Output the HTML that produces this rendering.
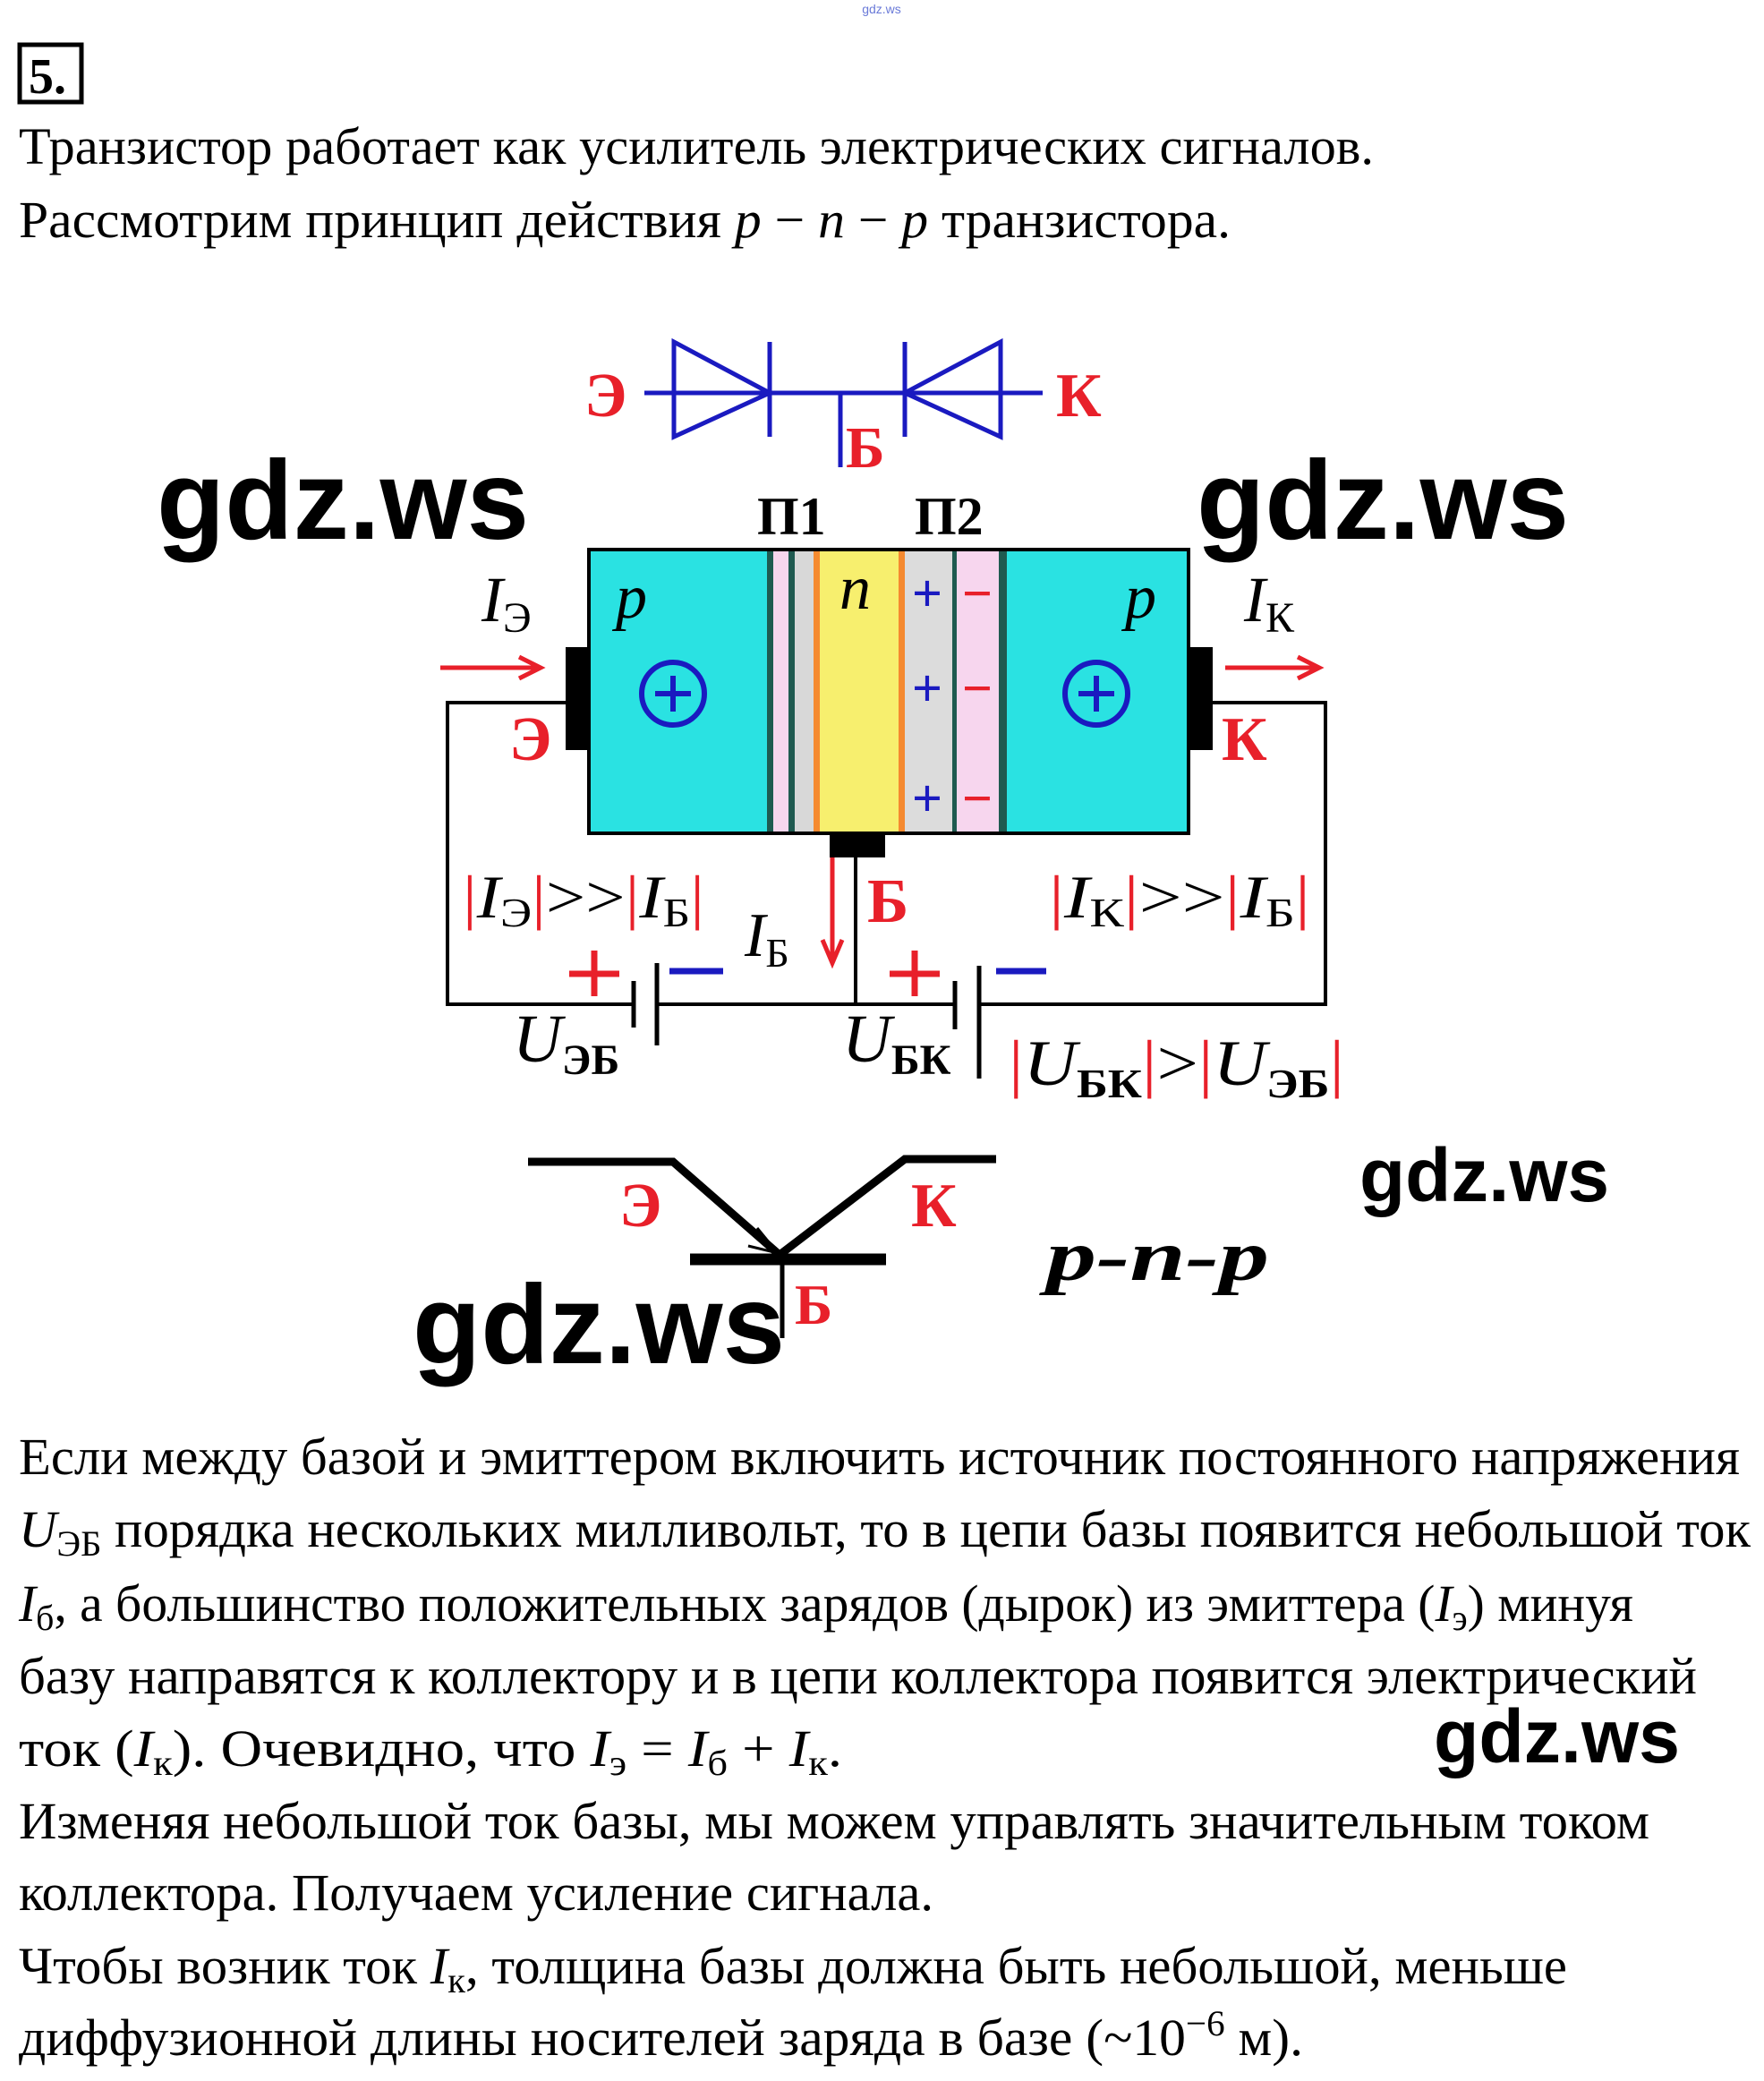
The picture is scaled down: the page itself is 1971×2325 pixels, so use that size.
<!DOCTYPE html>
<html><head><meta charset="utf-8"><style>html,body{margin:0;padding:0;background:#fff}svg{display:block}</style></head><body>
<svg width="1971" height="2325" viewBox="0 0 1971 2325" xmlns="http://www.w3.org/2000/svg" font-family="'Liberation Serif', serif">
<text x="985" y="15" font-size="14" fill="#6a7ad8" font-family="'Liberation Sans',sans-serif" text-anchor="middle">gdz.ws</text>
<rect x="22" y="50" width="69" height="64" fill="none" stroke="#000" stroke-width="5"/>
<text x="32" y="104" font-size="56" font-weight="bold">5.</text>
<text x="21" y="183" font-size="58" textLength="1514" lengthAdjust="spacingAndGlyphs">Транзистор работает как усилитель электрических сигналов.</text>
<text x="21" y="265" font-size="58" textLength="1354" lengthAdjust="spacingAndGlyphs">Рассмотрим принцип действия <tspan font-style="italic">p</tspan> − <tspan font-style="italic">n</tspan> − <tspan font-style="italic">p</tspan> транзистора.</text>

<g stroke="#1a1ac0" stroke-width="5" fill="none">
<line x1="720" y1="439" x2="1165" y2="439"/>
<polygon points="753,382 753,488 860,439"/>
<line x1="860" y1="382" x2="860" y2="488"/>
<polygon points="1118,382 1118,488 1011,439"/>
<line x1="1011" y1="382" x2="1011" y2="488"/>
<line x1="939" y1="439" x2="939" y2="522"/>
</g>
<g fill="#e8202a" font-weight="bold" font-size="70">
<text x="653" y="465">Э</text><text x="1180" y="465">К</text><text x="945" y="522" font-size="66">Б</text>
</g>
<text x="846" y="597" font-size="60" font-weight="bold">П1</text>
<text x="1022" y="597" font-size="60" font-weight="bold">П2</text>

<rect x="658" y="614" width="670" height="317" fill="#2ae2e2"/>
<rect x="864" y="614" width="17" height="317" fill="#f7d6ee"/>
<rect x="888" y="614" width="21" height="317" fill="#d8d8d8"/>
<rect x="909" y="614" width="7" height="317" fill="#f58a30"/>
<rect x="916" y="614" width="88" height="317" fill="#f7ef6e"/>
<rect x="1004" y="614" width="7" height="317" fill="#f58a30"/>
<rect x="1011" y="614" width="53" height="317" fill="#dcdcdc"/>
<rect x="1069" y="614" width="47" height="317" fill="#f7d6ee"/>
<rect x="857" y="614" width="7" height="317" fill="#1f5a50"/>
<rect x="881" y="614" width="7" height="317" fill="#1f5a50"/>
<rect x="1064" y="614" width="5" height="317" fill="#1f5a50"/>
<rect x="1116" y="614" width="9" height="317" fill="#1f5a50"/>
<rect x="658" y="614" width="670" height="317" fill="none" stroke="#000" stroke-width="4"/>
<rect x="632" y="723" width="28" height="115" fill="#000"/>
<rect x="1328" y="723" width="27" height="115" fill="#000"/>
<rect x="927" y="931" width="62" height="27" fill="#000"/>
<g font-style="italic" font-size="70">
<text x="688" y="690">p</text><text x="938" y="680">n</text><text x="1257" y="690">p</text>
<text x="538" y="694" font-size="72">I<tspan font-size="48" font-style="normal" dy="12">Э</tspan></text>
<text x="1390" y="694" font-size="72">I<tspan font-size="48" font-style="normal" dy="12">К</tspan></text>
</g>
<g stroke="#e8202a" stroke-width="5" fill="none">
<line x1="492" y1="746" x2="600" y2="746"/><polyline points="580,734 604,746 580,758"/>
<line x1="1369" y1="746" x2="1470" y2="746"/><polyline points="1450,734 1474,746 1450,758"/>
<line x1="930" y1="958" x2="930" y2="1072"/><polyline points="919,1050 930,1076 941,1050"/>
</g>
<g stroke="#1a1ac0" stroke-width="6" fill="none">
<circle cx="752" cy="775" r="35"/><line x1="732" y1="775" x2="772" y2="775"/><line x1="752" y1="755" x2="752" y2="795"/>
<circle cx="1225" cy="775" r="35"/><line x1="1205" y1="775" x2="1245" y2="775"/><line x1="1225" y1="755" x2="1225" y2="795"/>
</g>
<g font-size="60" font-weight="bold" text-anchor="middle">
<text x="1036" y="683" fill="#1a1ac0">+</text><text x="1036" y="789" fill="#1a1ac0">+</text><text x="1036" y="912" fill="#1a1ac0">+</text>
<text x="1092" y="683" fill="#e8202a">−</text><text x="1092" y="789" fill="#e8202a">−</text><text x="1092" y="912" fill="#e8202a">−</text>
</g>
<g fill="#e8202a" font-weight="bold" font-size="70">
<text x="569" y="849">Э</text><text x="1365" y="849">К</text><text x="969" y="1030">Б</text>
</g>

<g stroke="#000" stroke-width="4" fill="none">
<polyline points="632,785 500,785 500,1122 708,1122"/>
<polyline points="734,1122 1067,1122"/>
<line x1="956" y1="958" x2="956" y2="1122"/>
<polyline points="1094,1122 1481,1122 1481,785 1355,785"/>
<line x1="708" y1="1096" x2="708" y2="1148" stroke-width="5"/>
<line x1="734" y1="1076" x2="734" y2="1168" stroke-width="5"/>
<line x1="1067" y1="1096" x2="1067" y2="1150" stroke-width="5"/>
<line x1="1094" y1="1079" x2="1094" y2="1205" stroke-width="5"/>
</g>
<g stroke-width="7">
<line x1="636" y1="1088" x2="692" y2="1088" stroke="#e8202a"/><line x1="664" y1="1062" x2="664" y2="1113" stroke="#e8202a"/>
<line x1="748" y1="1085" x2="808" y2="1085" stroke="#1a1ac0"/>
<line x1="994" y1="1088" x2="1050" y2="1088" stroke="#e8202a"/><line x1="1022" y1="1062" x2="1022" y2="1113" stroke="#e8202a"/>
<line x1="1113" y1="1085" x2="1169" y2="1085" stroke="#1a1ac0"/>
</g>
<g font-size="68">
<text x="517" y="1025" textLength="270" lengthAdjust="spacingAndGlyphs"><tspan fill="#e8202a">|</tspan><tspan font-style="italic">I</tspan><tspan font-size="46" dy="10">Э</tspan><tspan fill="#e8202a" dy="-10">|</tspan>&gt;&gt;<tspan fill="#e8202a">|</tspan><tspan font-style="italic">I</tspan><tspan font-size="46" dy="10">Б</tspan><tspan fill="#e8202a" dy="-10">|</tspan></text>
<text x="1172" y="1025" textLength="292" lengthAdjust="spacingAndGlyphs"><tspan fill="#e8202a">|</tspan><tspan font-style="italic">I</tspan><tspan font-size="46" dy="10">К</tspan><tspan fill="#e8202a" dy="-10">|</tspan>&gt;&gt;<tspan fill="#e8202a">|</tspan><tspan font-style="italic">I</tspan><tspan font-size="46" dy="10">Б</tspan><tspan fill="#e8202a" dy="-10">|</tspan></text>
<text x="832" y="1068" font-size="70"><tspan font-style="italic">I</tspan><tspan font-size="46" dy="12">Б</tspan></text>
<text x="573" y="1186" font-size="76"><tspan font-style="italic">U</tspan><tspan font-size="48" font-weight="bold" dy="14">ЭБ</tspan></text>
<text x="941" y="1186" font-size="76"><tspan font-style="italic">U</tspan><tspan font-size="48" font-weight="bold" dy="14">БК</tspan></text>
<text x="1127" y="1212" textLength="375" lengthAdjust="spacingAndGlyphs" font-size="72"><tspan fill="#e8202a">|</tspan><tspan font-style="italic">U</tspan><tspan font-size="46" font-weight="bold" dy="14">БК</tspan><tspan fill="#e8202a" dy="-14">|</tspan>&gt;<tspan fill="#e8202a">|</tspan><tspan font-style="italic">U</tspan><tspan font-size="46" font-weight="bold" dy="14">ЭБ</tspan><tspan fill="#e8202a" dy="-14">|</tspan></text>
</g>

<g stroke="#000" fill="none">
<polyline points="590,1298 752,1298 871,1402" stroke-width="9"/>
<polyline points="871,1402 1011,1295 1113,1295" stroke-width="9"/>
<line x1="771" y1="1407" x2="990" y2="1407" stroke-width="13"/>
<line x1="874" y1="1407" x2="874" y2="1495" stroke-width="5"/>
<polyline points="846,1372 869,1400 836,1392" stroke-width="3"/>
</g>
<g fill="#e8202a" font-weight="bold" font-size="70">
<text x="692" y="1370">Э</text><text x="1018" y="1370">К</text><text x="888" y="1479" font-size="64">Б</text>
</g>
<text x="1169" y="1430" font-size="80" font-style="italic" font-weight="bold" textLength="249" lengthAdjust="spacingAndGlyphs">p-n-p</text>

<g font-family="'Liberation Sans',sans-serif" font-weight="bold">
<text x="175" y="602" font-size="125" textLength="416" lengthAdjust="spacingAndGlyphs">gdz.ws</text>
<text x="1337" y="602" font-size="125" textLength="416" lengthAdjust="spacingAndGlyphs">gdz.ws</text>
<text x="1519" y="1342" font-size="84" textLength="279" lengthAdjust="spacingAndGlyphs">gdz.ws</text>
<text x="461" y="1523" font-size="125" textLength="416" lengthAdjust="spacingAndGlyphs">gdz.ws</text>
<text x="1602" y="1969" font-size="84" textLength="275" lengthAdjust="spacingAndGlyphs">gdz.ws</text>
</g>

<g font-size="58">
<text x="21" y="1647" textLength="1923" lengthAdjust="spacingAndGlyphs">Если между базой и эмиттером включить источник постоянного напряжения</text>
<text x="21" y="1728" textLength="1935" lengthAdjust="spacingAndGlyphs"><tspan font-style="italic">U</tspan><tspan font-size="40" dy="10">ЭБ</tspan><tspan dy="-10"> порядка нескольких милливольт, то в цепи базы появится небольшой ток</tspan></text>
<text x="21" y="1811" textLength="1804" lengthAdjust="spacingAndGlyphs"><tspan font-style="italic">I</tspan><tspan font-size="40" dy="10">б</tspan><tspan dy="-10">, а большинство положительных зарядов (дырок) из эмиттера (</tspan><tspan font-style="italic">I</tspan><tspan font-size="40" dy="10">э</tspan><tspan dy="-10">) минуя</tspan></text>
<text x="21" y="1892" textLength="1875" lengthAdjust="spacingAndGlyphs">базу направятся к коллектору и в цепи коллектора появится электрический</text>
<text x="21" y="1973" textLength="920" lengthAdjust="spacingAndGlyphs">ток (<tspan font-style="italic">I</tspan><tspan font-size="40" dy="10">к</tspan><tspan dy="-10">). Очевидно, что </tspan><tspan font-style="italic">I</tspan><tspan font-size="40" dy="10">э</tspan><tspan dy="-10">  =  </tspan><tspan font-style="italic">I</tspan><tspan font-size="40" dy="10">б</tspan><tspan dy="-10">  +  </tspan><tspan font-style="italic">I</tspan><tspan font-size="40" dy="10">к</tspan><tspan dy="-10">.</tspan></text>
<text x="21" y="2054" textLength="1822" lengthAdjust="spacingAndGlyphs">Изменяя небольшой ток базы, мы можем управлять значительным током</text>
<text x="21" y="2134" textLength="1022" lengthAdjust="spacingAndGlyphs">коллектора. Получаем усиление сигнала.</text>
<text x="21" y="2216" textLength="1730" lengthAdjust="spacingAndGlyphs">Чтобы возник ток <tspan font-style="italic">I</tspan><tspan font-size="40" dy="10">к</tspan><tspan dy="-10">, толщина базы должна быть небольшой, меньше</tspan></text>
<text x="21" y="2296" textLength="1435" lengthAdjust="spacingAndGlyphs">диффузионной длины носителей заряда в базе (~10<tspan font-size="40" dy="-22">−6</tspan><tspan dy="22"> м).</tspan></text>
</g>
</svg>
</body></html>
